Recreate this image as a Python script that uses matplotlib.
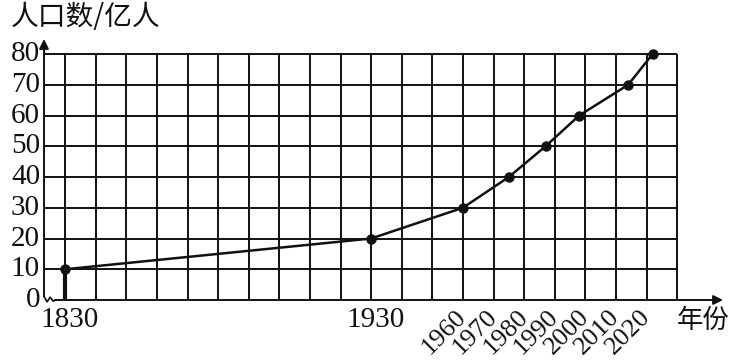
import matplotlib
matplotlib.use('Agg')
import matplotlib.pyplot as plt
import matplotlib.transforms as mtransforms

plt.rcParams['font.family'] = ['Liberation Serif', 'Noto Sans CJK SC']

# population milestones (亿人) and the year they are drawn at
years = [1830, 1930, 1960, 1975, 1987, 1998, 2014, 2022]
pop = [10, 20, 30, 40, 50, 60, 70, 80]

grid_years = list(range(1830, 2031, 10))
y_ticks = [0, 10, 20, 30, 40, 50, 60, 70, 80]
x_labels_flat = [1830, 1930]
x_labels_rot = [1960, 1970, 1980, 1990, 2000, 2010, 2020]

ink = '#111111'
W, H = 731, 363
x0, x_end = 1823.1, 2045.0   # y-axis position and arrow tip
y_top = 84.9

fig = plt.figure(figsize=(W / 100, H / 100), dpi=100)
ax = fig.add_axes([44 / W, (H - 300) / H, (723 - 44) / W, (300 - 39) / H])
ax.set_xlim(x0, x_end)
ax.set_ylim(0, y_top)
ax.axis('off')

# grid
ax.hlines(y_ticks[1:], x0, 2030, color=ink, lw=1.4, clip_on=False)
ax.vlines(grid_years, 0, 80, color=ink, lw=1.4, clip_on=False)
ax.vlines([years[0]], 0, pop[0], color=ink, lw=3.0, clip_on=False)

# axes with arrows and break mark
ax.annotate('', xy=(x0, y_top), xytext=(x0, 1.2), annotation_clip=False,
            arrowprops=dict(arrowstyle='-|>', color=ink, lw=1.4, mutation_scale=14,
                            shrinkA=0, shrinkB=0))
ax.plot([x0, x0 + 1.0, x0 + 2.0, x0 + 3.0, x0 + 3.6], [1.2, -0.6, 0.9, -0.4, 0],
        color=ink, lw=1.2, clip_on=False)
ax.annotate('', xy=(x_end, 0), xytext=(x0 + 3.6, 0), annotation_clip=False,
            arrowprops=dict(arrowstyle='-|>', color=ink, lw=1.4, mutation_scale=14,
                            shrinkA=0, shrinkB=0))

# data
ax.plot(years, pop, color=ink, lw=1.8, marker='o', markersize=6.5, clip_on=False,
        solid_joinstyle='round')

# tick labels
for v in y_ticks:
    ax.text(x0 - 1.3, v, str(v), ha='right', va='center', fontsize=21, color=ink)
for yr in x_labels_flat:
    ax.text(yr + 1.5, -2.4, str(yr), ha='center', va='top', fontsize=21, color=ink)
for yr in x_labels_rot:
    off = mtransforms.offset_copy(ax.transData, fig=fig, x=8, y=-6, units='dots')
    ax.text(yr, 0, str(yr), rotation=45, ha='right', va='top', fontsize=19,
            color=ink, transform=off)

fig.text(11 / W, 1 - 16.5 / H, '人口数/亿人', ha='left', va='center', fontsize=20,
         color=ink, family=['Noto Sans CJK SC', 'DejaVu Sans'])
fig.text(703 / W, 1 - 320 / H, '年份', ha='center', va='center', fontsize=19,
         color=ink, family=['Noto Sans CJK SC', 'DejaVu Sans'])

fig.savefig('out.png', dpi=100)
